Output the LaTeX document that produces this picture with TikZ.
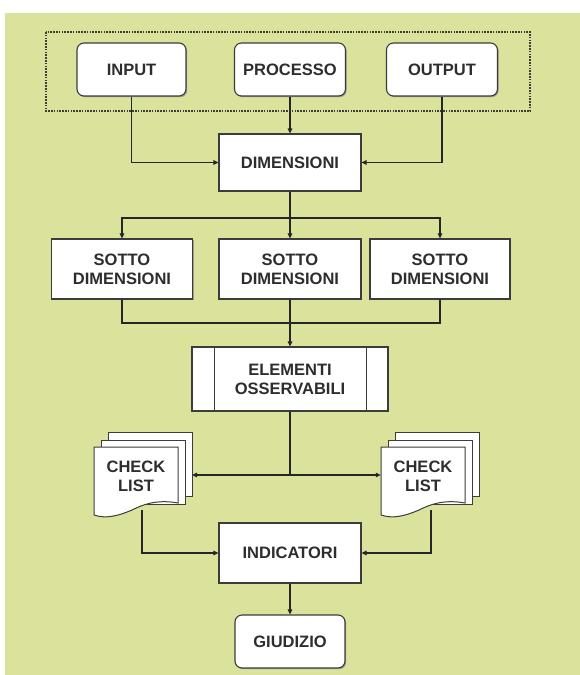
\documentclass[tikz,border=0pt]{standalone}
\usepackage{fontspec}
\setmainfont{Liberation Sans}
\usetikzlibrary{arrows.meta,shadows}
\definecolor{bggreen}{RGB}{218,226,155}
\definecolor{txt}{RGB}{45,45,45}
\definecolor{edge}{RGB}{60,60,60}
\begin{document}
\begin{tikzpicture}[x=1pt,y=-1pt,
  lbl/.style={font=\fontsize{16.5}{19}\selectfont\bfseries, text=txt, align=center},
  boxshadow/.style={drop shadow={shadow xshift=1.2pt,shadow yshift=-1.2pt,fill=black!45,opacity=0.8}},
  sqbox/.style={lbl, draw=edge, line width=1.1pt, fill=white, boxshadow, inner sep=0pt},
  rbox/.style={sqbox, rounded corners=7pt},
  conn/.style={draw=black!85, line width=1.5pt},
  arr/.style={conn, -{Triangle[length=5pt,width=4.5pt]}},
  page/.style={draw=edge, line width=1pt, fill=white},
]
\useasboundingbox (0,0) rectangle (580,675);
\fill[bggreen] (5,13) rectangle (580,675);
% group frame
\draw[edge, line width=1.4pt, dash pattern=on 1.6pt off 1.2pt] (46,32) rectangle (530,111);
% top row
\node[rbox, minimum width=109pt, minimum height=53pt] (input) at (131.5,69.5) {INPUT};
\node[rbox, minimum width=111pt, minimum height=53pt] (processo) at (290,69.5) {PROCESSO};
\node[rbox, minimum width=111pt, minimum height=53pt] (output) at (442,69.5) {OUTPUT};
% dimensioni
\node[sqbox, minimum width=142pt, minimum height=57pt] (dim) at (290,162.5) {DIMENSIONI};
% sotto dimensioni
\node[sqbox, minimum width=141pt, minimum height=60pt] (sd1) at (122,269) {SOTTO\\DIMENSIONI};
\node[sqbox, minimum width=142pt, minimum height=60pt] (sd2) at (290,269) {SOTTO\\DIMENSIONI};
\node[sqbox, minimum width=140pt, minimum height=60pt] (sd3) at (440,269) {SOTTO\\DIMENSIONI};
% elementi osservabili
\node[sqbox, minimum width=196pt, minimum height=64pt] (elem) at (290,379) {ELEMENTI\\OSSERVABILI};
\draw[edge, line width=1.1pt] ([xshift=23pt]elem.north west) -- ([xshift=23pt]elem.south west);
\draw[edge, line width=1.1pt] ([xshift=-22pt]elem.north east) -- ([xshift=-22pt]elem.south east);
% check lists (multi-document shapes)
\foreach \ox/\nm in {94/cl1, 381/cl2}{
  \begin{scope}[shift={(\ox,0)}]
    \draw[page] (14,432) rectangle (98,496);
    \draw[page] (7,440) rectangle (91,504);
    \draw[page] (0,447) -- (84,447) -- (84,503)
      .. controls (62,499) and (48,505) .. (38,510)
      .. controls (24,516) and (12,519) .. (0,515) -- cycle;
  \end{scope}
}
\node[lbl, minimum width=84pt, minimum height=56pt, inner sep=0pt] (cl1) at (136,476) {CHECK\\LIST};
\node[lbl, minimum width=84pt, minimum height=56pt, inner sep=0pt] (cl2) at (423,476) {CHECK\\LIST};
\coordinate (cl1in) at (192,475);
\coordinate (cl1out) at (142,510);
\coordinate (cl2out) at (431,510);
% indicatori, giudizio
\node[sqbox, minimum width=142pt, minimum height=60pt] (ind) at (290,553) {INDICATORI};
\node[rbox, minimum width=110pt, minimum height=53pt] (giu) at (290,641.5) {GIUDIZIO};
% connectors
\draw[arr] (input.south) |- (dim.west);
\draw[arr] (processo.south) -- (dim.north);
\draw[arr] (output.south) |- (dim.east);
\coordinate (split1) at (290,218);
\draw[conn] (dim.south) -- (split1);
\draw[arr] (split1) -| (sd1.north);
\draw[arr] (split1) -| (sd3.north);
\draw[arr] (split1) -- (sd2.north);
\coordinate (merge1) at (290,323);
\draw[conn] (sd1.south) |- (merge1);
\draw[conn] (sd3.south) |- (merge1);
\draw[arr] (sd2.south) -- (elem.north);
\coordinate (split2) at (290,475);
\draw[conn] (elem.south) -- (split2);
\draw[arr] (split2) -- (cl1in);
\draw[arr] (split2) -- (cl2.west |- split2);
\draw[arr] (cl1out) |- (ind.west);
\draw[arr] (cl2out) |- (ind.east);
\draw[arr] (ind.south) -- (giu.north);
\end{tikzpicture}
\end{document}
